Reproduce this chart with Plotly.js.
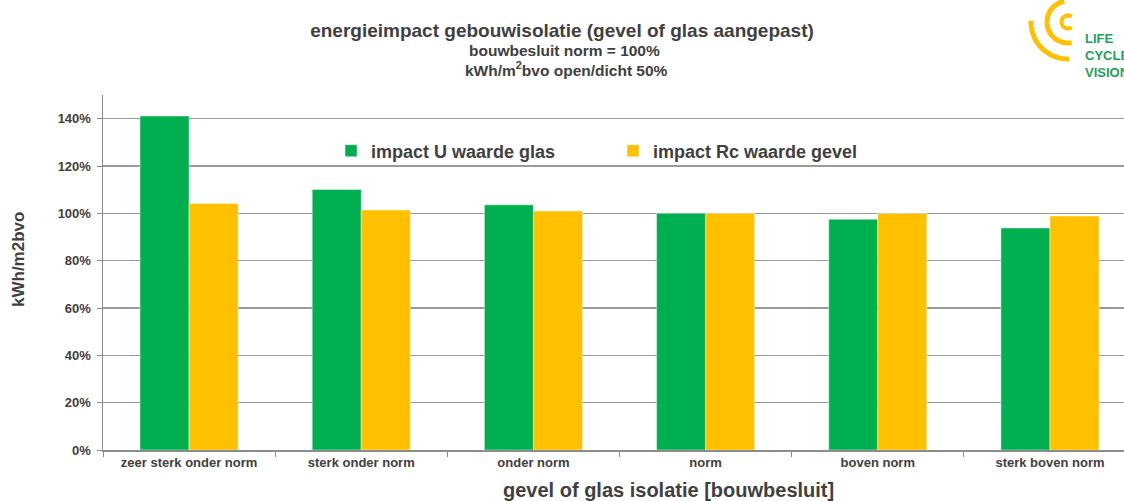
<!DOCTYPE html>
<html>
<head>
<meta charset="utf-8">
<script src="https://cdn.plot.ly/plotly-3.0.1.min.js"></script>
<style>
  html, body { margin: 0; padding: 0; background: #fff; overflow: hidden; }
  #chart { width: 1124px; height: 501px; }
</style>
</head>
<body>
<div id="chart"></div>
<script>
// ---- data ----
const categories = ["zeer sterk onder norm", "sterk onder norm", "onder norm", "norm", "boven norm", "sterk boven norm"];
const seriesNames = ["impact U waarde glas", "impact Rc waarde gevel"];
const uGlas = [141.1, 110.1, 103.6, 100.0, 97.5, 93.8];
const rcGevel = [104.2, 101.4, 101.0, 100.0, 99.9, 98.9];
const yTicks = [0, 20, 40, 60, 80, 100, 120, 140];

// ---- layout helpers ----
const W = 1124, H = 501;
const M = { l: 103, r: 0, t: 95, b: 51 };
const plotW = W - M.l - M.r, plotH = H - M.t - M.b;
const px2x = p => (p - M.l) / plotW;
const px2y = p => (H - M.b - p) / plotH;

const font = "Arial, 'Liberation Sans', sans-serif";
const green = "#00B050", yellow = "#FFC000", textCol = "#404040";

const traces = [
  { type: "bar", name: seriesNames[0], x: categories, y: uGlas,
    marker: { color: green, line: { color: "rgba(255,255,255,0.45)", width: 1 } } },
  { type: "bar", name: seriesNames[1], x: categories, y: rcGevel,
    marker: { color: yellow, line: { color: "rgba(255,255,255,0.45)", width: 1 } } }
];

// logo: concentric arcs (decoration), centre/radius/angles in pixels
const logoC = [1068, 22];
function arc(r, a0, a1) {
  const n = 40;
  let d = "";
  for (let i = 0; i <= n; i++) {
    const a = (a0 + (a1 - a0) * i / n) * Math.PI / 180;
    const px = logoC[0] + r * Math.cos(a), py = logoC[1] - r * Math.sin(a);
    d += (i === 0 ? "M" : "L") + px2x(px).toFixed(5) + "," + px2y(py).toFixed(5);
  }
  return d;
}
const logoArcs = [[6.5, 55, 305, 4], [21, 100, 280, 5], [37, 178, 272, 5]];
const shapes = logoArcs.map(a => ({
  type: "path", xref: "paper", yref: "paper", path: arc(a[0], a[1], a[2]),
  line: { color: yellow, width: a[3] }
}));

const layout = {
  width: W, height: H,
  margin: M,
  paper_bgcolor: "#fff", plot_bgcolor: "#fff",
  font: { family: font, color: textCol },
  title: {
    text: "energieimpact gebouwisolatie (gevel of glas aangepast)",
    font: { family: font, size: 19, weight: "bold", color: textCol },
    x: 0.5, xref: "container", xanchor: "center",
    y: 1 - 30 / H, yref: "container", yanchor: "middle"
  },
  barmode: "group",
  bargap: 0.43, bargroupgap: 0,
  showlegend: true,
  legend: {
    orientation: "h", x: px2x(331), xanchor: "left", y: px2y(151), yanchor: "middle",
    font: { family: font, size: 18, weight: "bold", color: textCol },
    bgcolor: "rgba(0,0,0,0)", entrywidth: 237, entrywidthmode: "pixels",
    traceorder: "normal"
  },
  xaxis: {
    type: "category", range: [-0.5, 5.43],
    showline: true, linecolor: "#8c8c8c", linewidth: 1.5,
    ticks: "outside", tickson: "boundaries", ticklen: 5, tickcolor: "#8c8c8c",
    showgrid: false, zeroline: false,
    tickfont: { family: font, size: 13, weight: "bold", color: textCol }
  },
  yaxis: {
    range: [0, 150], tickvals: yTicks, ticktext: yTicks.map(v => v + "%"),
    showline: true, linecolor: "#8c8c8c", linewidth: 1.5,
    ticks: "outside", ticklen: 5, tickcolor: "#8c8c8c", ticklabelstandoff: 3,
    showgrid: true, gridcolor: "#9a9a9a", gridwidth: 1.5, zeroline: false,
    tickfont: { family: font, size: 13, weight: "bold", color: textCol }
  },
  shapes: shapes,
  annotations: [
    { text: "bouwbesluit norm = 100%", xref: "paper", yref: "paper",
      x: px2x(564), y: px2y(51), xanchor: "center", yanchor: "middle", showarrow: false,
      font: { family: font, size: 15.5, weight: "bold", color: textCol } },
    { text: "kWh/m<sup>2</sup>bvo open/dicht 50%", xref: "paper", yref: "paper",
      x: px2x(566), y: px2y(69), xanchor: "center", yanchor: "middle", showarrow: false,
      font: { family: font, size: 15.5, weight: "bold", color: textCol } },
    { text: "kWh/m2bvo", xref: "paper", yref: "paper", textangle: -90,
      x: px2x(18), y: px2y(260), xanchor: "center", yanchor: "middle", showarrow: false,
      font: { family: font, size: 17, weight: "bold", color: textCol } },
    { text: "gevel of glas isolatie [bouwbesluit]", xref: "paper", yref: "paper",
      x: px2x(668), y: px2y(490), xanchor: "center", yanchor: "middle", showarrow: false,
      font: { family: font, size: 20, weight: "bold", color: textCol } },
    { text: "LIFE<br>CYCLE<br>VISION", xref: "paper", yref: "paper",
      x: px2x(1083), y: px2y(29), xanchor: "left", yanchor: "top", align: "left", showarrow: false,
      font: { family: "'Liberation Sans Narrow', 'Arial Narrow', " + font, size: 13, weight: "bold", color: "#1BA35B" } }
  ]
};

Plotly.newPlot("chart", traces, layout, { displayModeBar: false, staticPlot: true });
</script>
</body>
</html>
